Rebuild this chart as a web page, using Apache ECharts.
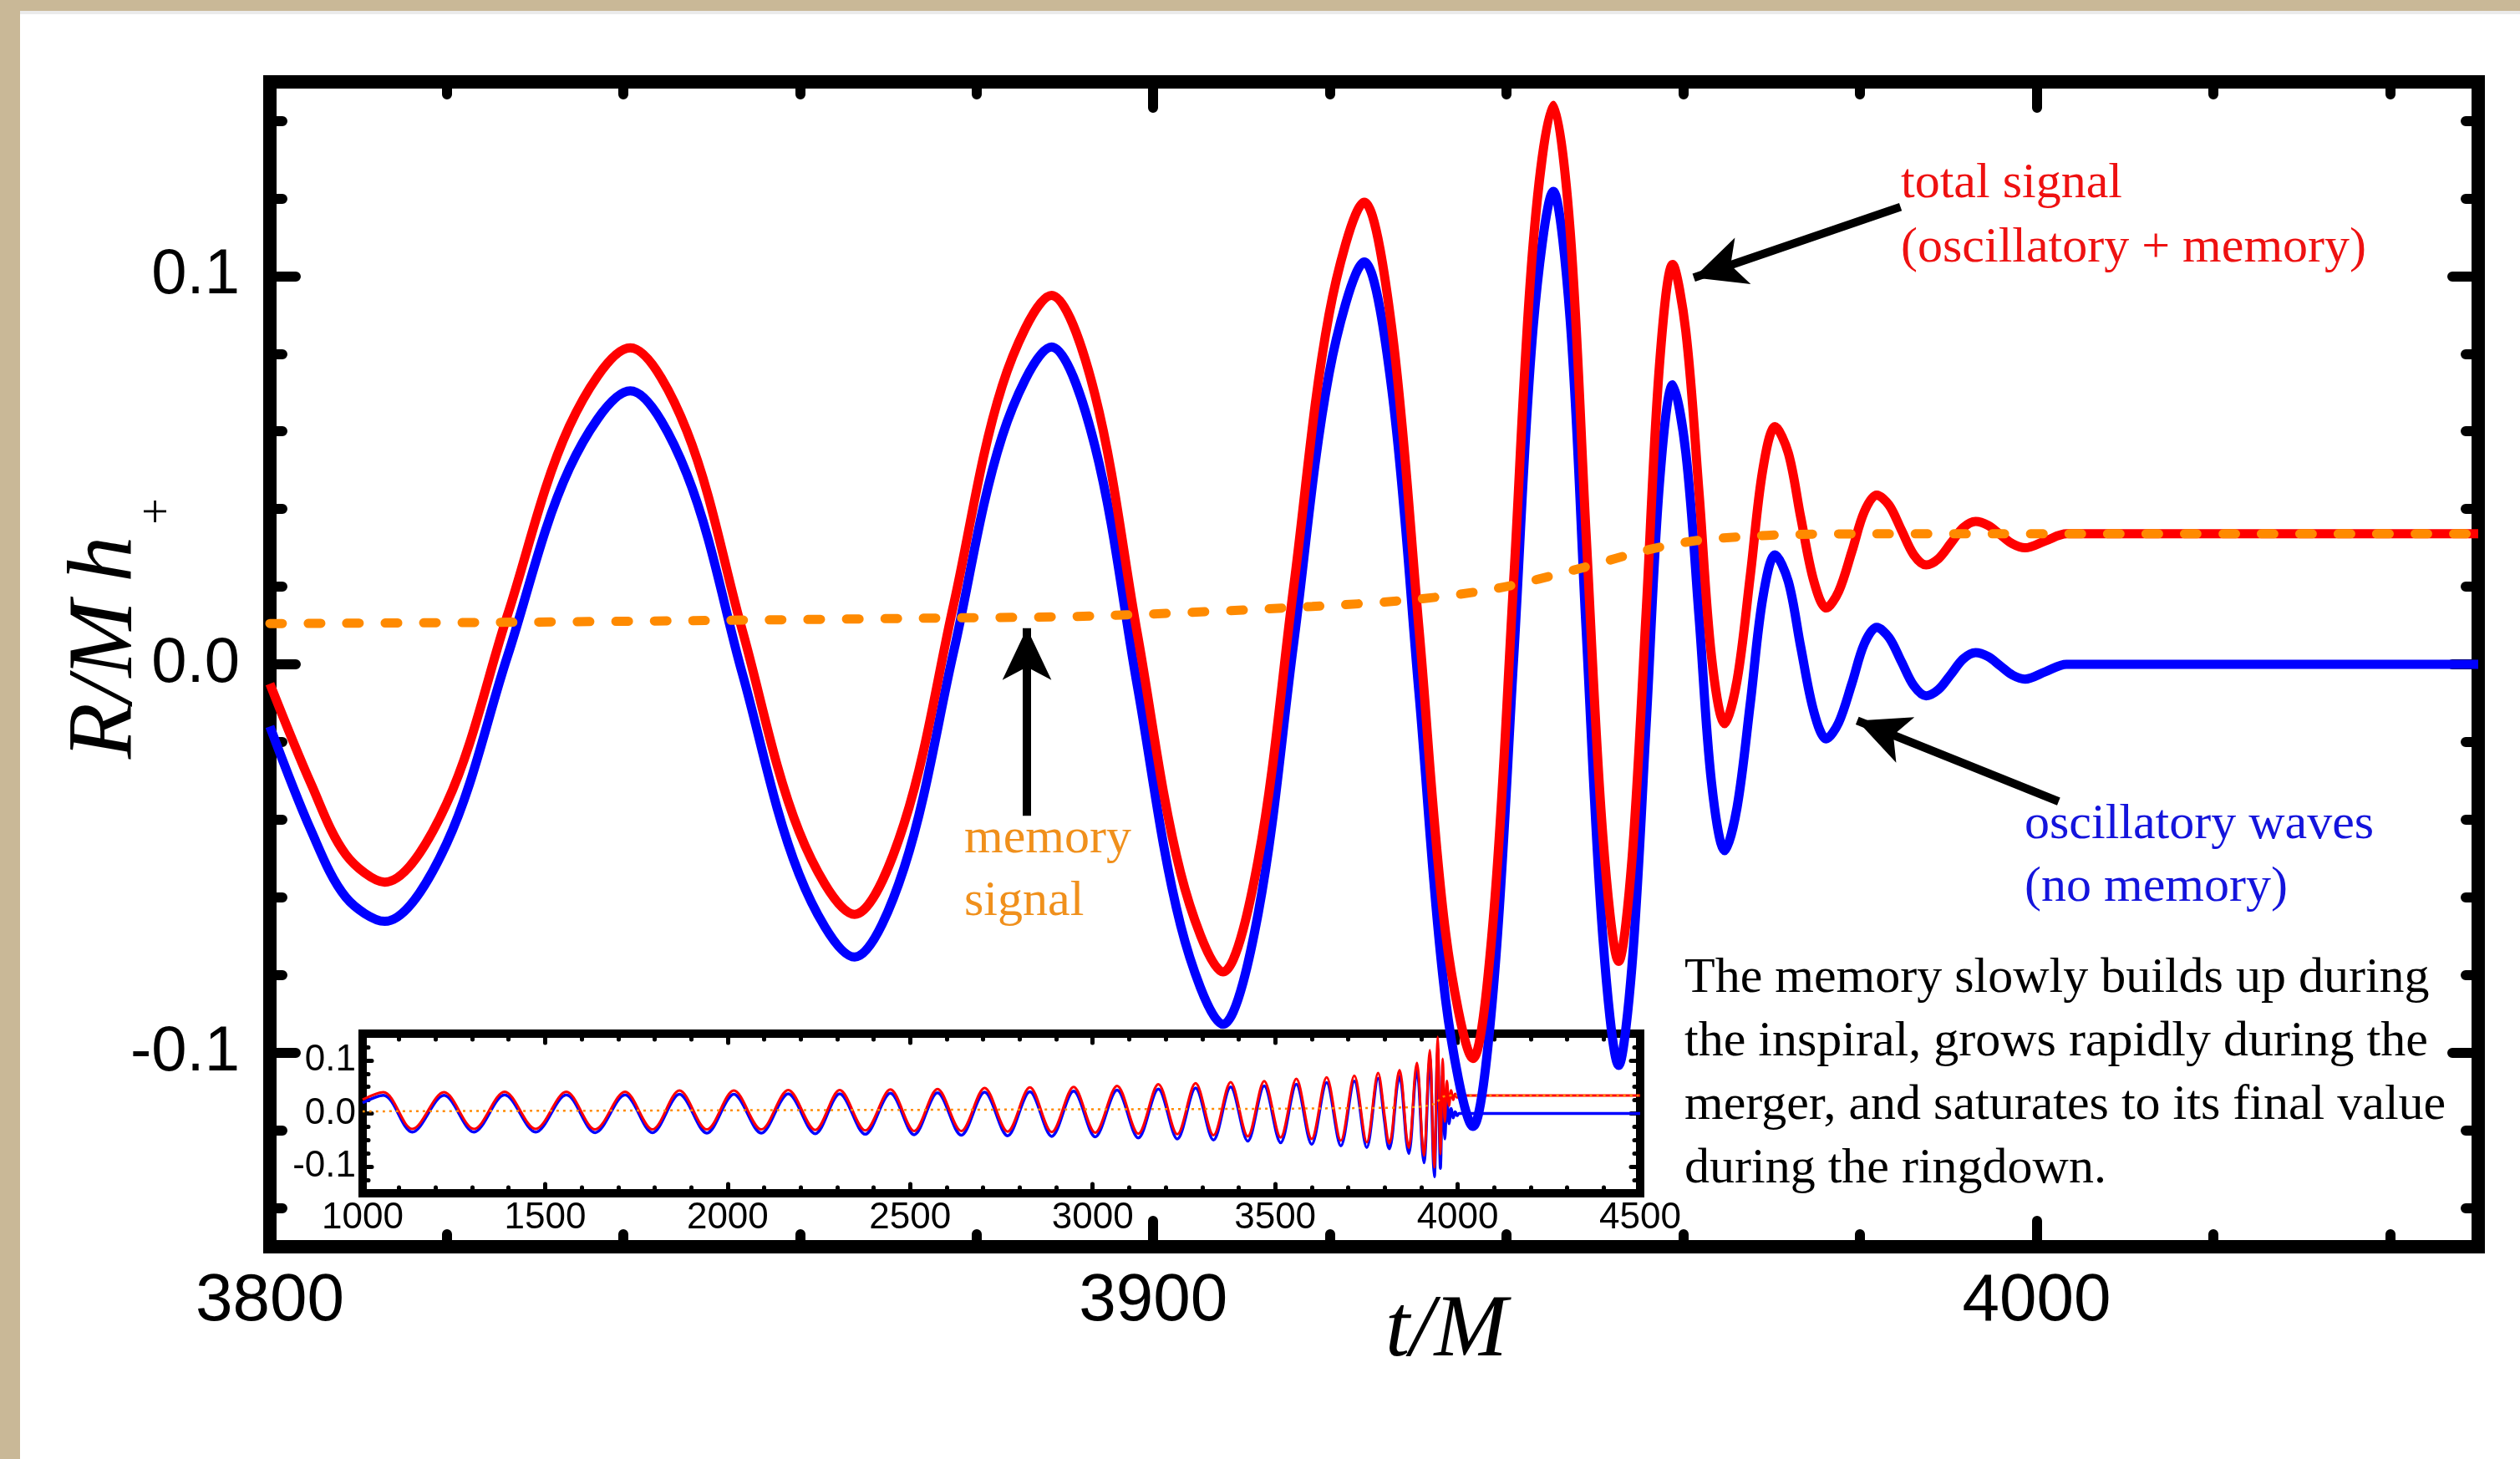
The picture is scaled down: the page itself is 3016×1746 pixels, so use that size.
<!DOCTYPE html>
<html lang="en">
<head>
<meta charset="UTF-8">
<title>memory signal</title>
<script src="https://cdn.jsdelivr.net/npm/echarts@6/dist/echarts.min.js"></script>
<style>
  html, body { margin: 0; padding: 0; background: #fff; }
  #chart { width: 3016px; height: 1746px; }
</style>
</head>
<body>
<div id="chart"></div>
<script>
  // ---- main plot: 3800 < t/M < 4050 (peaks, troughs and points in between) ----
  const tWave = [3800, 3804.7, 3808.6, 3813.0,
    3820.0, 3826.9, 3833.9, 3840.8, 3847.2, 3853.5, 3859.9, 3866.2,
    3871.8, 3877.4, 3882.9, 3888.5, 3893.4, 3898.2, 3903.1, 3907.9,
    3911.9, 3915.9, 3919.9, 3923.9, 3927.0, 3930.1, 3933.1, 3936.2,
    3938.5, 3940.8, 3943.0, 3945.3, 3947.2, 3949.0, 3950.9, 3952.7,
    3954.2, 3955.8, 3957.3, 3958.8, 3960.3, 3961.8, 3963.2, 3964.7,
    3966.1, 3967.6, 3969.0, 3970.4, 3971.9, 3973.3, 3974.8, 3976.2,
    3977.6, 3979.1, 3980.5, 3981.9, 3983.3, 3984.7, 3986.1, 3987.5,
    3988.9, 3990.3, 3991.7, 3993.1, 3994.5, 3995.9, 3997.3, 3998.7,
    4001.0, 4003.4, 4050];
  // oscillatory waves (no memory), blue
  const hOsc = [-0.016, -0.043, -0.0600, -0.0662,
    -0.0462, 0.0021, 0.0504, 0.0704, 0.0490, -0.0025, -0.0540, -0.0754,
    -0.0524, 0.0032, 0.0587, 0.0817, 0.0562, -0.0055, -0.0672, -0.0927,
    -0.0639, 0.0055, 0.0748, 0.1036, 0.0710, -0.0077, -0.0864, -0.1190,
    -0.0837, 0.0014, 0.0865, 0.1218, 0.0888, 0.0093, -0.0703, -0.1033,
    -0.0776, -0.0157, 0.0463, 0.0720, 0.0544, 0.0120, -0.0304, -0.0480,
    -0.0368, -0.0099, 0.0170, 0.0282, 0.0213, 0.0045, -0.0123, -0.0192,
    -0.0150, -0.0049, 0.0053, 0.0095, 0.0069, 0.0007, -0.0055, -0.0081,
    -0.0065, -0.0026, 0.0014, 0.0030, 0.0020, -0.0004, -0.0028, -0.0038,
    -0.0019, 0.0, 0.0];
  // total signal (oscillatory + memory), red
  const hTotal = [-0.005, -0.031, -0.0490, -0.0561,
    -0.0359, 0.0127, 0.0613, 0.0815, 0.0601, 0.0086, -0.0430, -0.0644,
    -0.0410, 0.0153, 0.0717, 0.0950, 0.0695, 0.0079, -0.0537, -0.0792,
    -0.0502, 0.0199, 0.0900, 0.1190, 0.0867, 0.0088, -0.0692, -0.1015,
    -0.0655, 0.0213, 0.1080, 0.1440, 0.1117, 0.0338, -0.0442, -0.0765,
    -0.0502, 0.0133, 0.0767, 0.1030, 0.0857, 0.0439, 0.0020, -0.0153,
    -0.0041, 0.0230, 0.0500, 0.0612, 0.0544, 0.0379, 0.0213, 0.0145,
    0.0188, 0.0291, 0.0393, 0.0436, 0.0410, 0.0346, 0.0282, 0.0256,
    0.0272, 0.0312, 0.0352, 0.0368, 0.0358, 0.0334, 0.0310, 0.0300,
    0.0318, 0.0336, 0.0336];
  // memory signal, orange dashed
  const tMemory = [3800, 3825, 3850, 3875, 3894, 3918, 3930, 3939, 3948, 3954, 3958, 3962, 3967, 3972, 3980, 4050];
  const hMemory = [0.0105, 0.0108, 0.0113, 0.0119, 0.0125, 0.0149, 0.0168, 0.0196, 0.0245, 0.0283, 0.0305, 0.0320, 0.0329, 0.0334, 0.0336, 0.0336];

  // ---- inset: 1000 < t/M < 4500, early inspiral peaks and troughs ----
  const tEarly = [1000, 1057, 1136, 1223, 1305, 1389, 1474, 1558, 1637, 1719, 1794,
    1868, 1943, 2017, 2092, 2166, 2240, 2307, 2377, 2446, 2511, 2575, 2640, 2704,
    2767, 2828, 2888, 2948, 3007, 3067, 3125, 3180, 3232, 3282, 3331, 3378, 3425,
    3470, 3515, 3558, 3600, 3641, 3680, 3717, 3751, 3782];
  const hOscEarly = [0.020, 0.034, -0.035, 0.034, -0.035, 0.035, -0.035, 0.035, -0.036, 0.035, -0.036,
    0.036, -0.037, 0.036, -0.037, 0.037, -0.038, 0.037, -0.039, 0.038, -0.040, 0.039, -0.041, 0.040,
    -0.042, 0.041, -0.043, 0.042, -0.044, 0.044, -0.046, 0.046, -0.048, 0.048, -0.050, 0.050, -0.052,
    0.052, -0.055, 0.055, -0.058, 0.058, -0.061, 0.061, -0.064, 0.066];
  const hTotalEarly = [0.026, 0.040, -0.029, 0.040, -0.029, 0.041, -0.029, 0.041, -0.030, 0.041, -0.030,
    0.043, -0.030, 0.043, -0.030, 0.044, -0.031, 0.044, -0.032, 0.045, -0.033, 0.046, -0.033, 0.048,
    -0.034, 0.049, -0.035, 0.050, -0.036, 0.052, -0.038, 0.055, -0.039, 0.057, -0.041, 0.059, -0.043,
    0.061, -0.045, 0.065, -0.048, 0.068, -0.051, 0.071, -0.054, 0.076];
  const tMemoryEarly = [1000, 1500, 2000, 2500, 3000, 3500];
  const hMemoryEarly = [0.004, 0.005, 0.006, 0.0068, 0.0078, 0.009];
  const tTail = [4500];
  const hOscTail = [0.0];
  const hTotalTail = [0.0336];
  const hMemoryTail = [0.0336];

  // ---- ticks and labels ----
  const mainXLabels = [3800, 3900, 4000];
  const mainXMajor = [3900, 4000];
  const mainXMinor = [3820, 3840, 3860, 3880, 3920, 3940, 3960, 3980, 4020, 4040];
  const mainYLabels = [-0.1, 0, 0.1];
  const mainYMinor = [-0.14, -0.12, -0.08, -0.06, -0.04, -0.02, 0.02, 0.04, 0.06, 0.08, 0.12, 0.14];
  const insetXLabels = [1000, 1500, 2000, 2500, 3000, 3500, 4000, 4500];
  const insetXMajor = [1500, 2000, 2500, 3000, 3500, 4000];
  const insetXMinor = [1100, 1200, 1300, 1400, 1600, 1700, 1800, 1900, 2100, 2200, 2300, 2400,
    2600, 2700, 2800, 2900, 3100, 3200, 3300, 3400, 3600, 3700, 3800, 3900, 4100, 4200, 4300, 4400];
  const insetYLabels = [-0.1, 0, 0.1];
  const insetYMinor = [-0.125, -0.075, -0.05, -0.025, 0.025, 0.05, 0.075, 0.125];

  // arrows: [fromT, fromH, toT, toH], the arrow tip sits at the second point
  const arrowMemory = [3885.7, -0.039, 3885.7, 0.0093];
  const arrowTotal = [3984.6, 0.1178, 3961.2, 0.0996];
  const arrowOsc = [4002.5, -0.0353, 3979.7, -0.0145];

  const pairs = (t, h) => t.map((v, i) => [v, h[i]]);
  const fmt1 = v => v.toFixed(1);
  const fmtInt = v => String(Math.round(v));

  function axis(o) {
    const a = {
      type: 'value', gridIndex: o.grid, position: o.pos, min: o.min, max: o.max,
      axisLine: { show: !!o.line, onZero: false, lineStyle: { color: '#000', width: o.line || 1, cap: 'square' } },
      axisTick: { show: true, inside: true, length: o.len, customValues: o.ticks,
        lineStyle: { color: '#000', width: o.tickW, cap: 'round' } },
      axisLabel: { show: false },
      splitLine: { show: false },
      minorTick: { show: false },
      minorSplitLine: { show: false }
    };
    if (o.labels) {
      a.axisLabel = { show: true, customValues: o.labels, color: '#000', fontFamily: 'Liberation Sans',
        fontSize: o.fontSize, margin: o.margin, formatter: o.fmt };
    }
    return a;
  }

  const MX = { min: 3800, max: 4050 }, MY = { min: -0.15, max: 0.15 };
  const IX = { min: 1000, max: 4500 }, IY = { min: -0.15, max: 0.15 };

  const xAxes = [
    axis({ grid: 0, pos: 'bottom', ...MX, line: 16, len: 31, tickW: 12, ticks: mainXMajor, labels: mainXLabels, fontSize: 80, margin: 26, fmt: fmtInt }),
    axis({ grid: 0, pos: 'bottom', ...MX, len: 15, tickW: 12, ticks: mainXMinor }),
    axis({ grid: 0, pos: 'top', ...MX, line: 16, len: 31, tickW: 12, ticks: mainXMajor }),
    axis({ grid: 0, pos: 'top', ...MX, len: 15, tickW: 12, ticks: mainXMinor }),
    axis({ grid: 1, pos: 'bottom', ...IX, line: 10, len: 11, tickW: 5, ticks: insetXMajor, labels: insetXLabels, fontSize: 44, margin: 8, fmt: fmtInt }),
    axis({ grid: 1, pos: 'bottom', ...IX, len: 7, tickW: 5, ticks: insetXMinor }),
    axis({ grid: 1, pos: 'top', ...IX, line: 10, len: 11, tickW: 5, ticks: insetXMajor }),
    axis({ grid: 1, pos: 'top', ...IX, len: 7, tickW: 5, ticks: insetXMinor })
  ];
  const yAxes = [
    axis({ grid: 0, pos: 'left', ...MY, line: 16, len: 31, tickW: 12, ticks: mainYLabels, labels: mainYLabels, fontSize: 76, margin: 36, fmt: fmt1 }),
    axis({ grid: 0, pos: 'left', ...MY, len: 15, tickW: 12, ticks: mainYMinor }),
    axis({ grid: 0, pos: 'right', ...MY, line: 16, len: 31, tickW: 12, ticks: mainYLabels }),
    axis({ grid: 0, pos: 'right', ...MY, len: 15, tickW: 12, ticks: mainYMinor }),
    axis({ grid: 1, pos: 'left', ...IY, line: 10, len: 11, tickW: 5, ticks: insetYLabels, labels: insetYLabels, fontSize: 44, margin: 8, fmt: fmt1 }),
    axis({ grid: 1, pos: 'left', ...IY, len: 7, tickW: 5, ticks: insetYMinor }),
    axis({ grid: 1, pos: 'right', ...IY, line: 10, len: 11, tickW: 5, ticks: insetYLabels }),
    axis({ grid: 1, pos: 'right', ...IY, len: 7, tickW: 5, ticks: insetYMinor })
  ];

  const arrowItem = a => [{ coord: [a[0], a[1]] }, { coord: [a[2], a[3]] }];
  const serif = '"Liberation Serif"';
  const SMOOTH = 0.33;

  const option = {
    animation: false,
    backgroundColor: '#fff',
    grid: [
      { left: 323, top: 98, right: 50, bottom: 254, outerBoundsMode: 'none' },
      { left: 434, top: 1237, width: 1529, height: 191, outerBoundsMode: 'none' }
    ],
    xAxis: xAxes,
    yAxis: yAxes,
    series: [
      {
        name: 'oscillatory', type: 'line', xAxisIndex: 0, yAxisIndex: 0, z: 3,
        data: pairs(tWave, hOsc), smooth: SMOOTH, showSymbol: false,
        lineStyle: { color: '#0000ff', width: 11 }
      },
      {
        name: 'total', type: 'line', xAxisIndex: 0, yAxisIndex: 0, z: 4,
        data: pairs(tWave, hTotal), smooth: SMOOTH, showSymbol: false,
        lineStyle: { color: '#ff0000', width: 11 }
      },
      {
        name: 'memory', type: 'line', xAxisIndex: 0, yAxisIndex: 0, z: 5,
        data: pairs(tMemory, hMemory), smooth: SMOOTH, showSymbol: false,
        lineStyle: { color: '#ff8a00', width: 11, type: [15, 31], cap: 'round' },
        markLine: {
          silent: true, animation: false,
          symbol: ['none', 'arrow'], symbolSize: [44, 62],
          label: { show: false },
          lineStyle: { color: '#000', width: 10, type: 'solid' },
          data: [arrowItem(arrowMemory), arrowItem(arrowTotal), arrowItem(arrowOsc)]
        }
      },
      {
        name: 'inset oscillatory', type: 'line', xAxisIndex: 4, yAxisIndex: 4, z: 2,
        data: pairs(tEarly, hOscEarly).concat(pairs(tWave, hOsc), pairs(tTail, hOscTail)),
        smooth: SMOOTH, showSymbol: false,
        lineStyle: { color: '#0000ff', width: 3.5 }
      },
      {
        name: 'inset total', type: 'line', xAxisIndex: 4, yAxisIndex: 4, z: 2,
        data: pairs(tEarly, hTotalEarly).concat(pairs(tWave, hTotal), pairs(tTail, hTotalTail)),
        smooth: SMOOTH, showSymbol: false,
        lineStyle: { color: '#ff0000', width: 3 }
      },
      {
        name: 'inset memory', type: 'line', xAxisIndex: 4, yAxisIndex: 4, z: 2,
        data: pairs(tMemoryEarly, hMemoryEarly).concat(pairs(tMemory, hMemory), pairs(tTail, hMemoryTail)),
        smooth: SMOOTH, showSymbol: false,
        lineStyle: { color: '#ff8a00', width: 2.5, type: [3, 5] }
      }
    ],
    graphic: [
      // paper edge
      { type: 'rect', shape: { x: 0, y: 0, width: 3016, height: 13 }, style: { fill: '#c9b897' } },
      { type: 'rect', shape: { x: 0, y: 0, width: 24, height: 1746 }, style: { fill: '#c9b897' } },
      { type: 'rect', shape: { x: 24, y: 13, width: 2992, height: 4 }, style: { fill: '#ebebeb' } },
      // axis titles
      { type: 'text', x: 128, y: 775, rotation: Math.PI / 2,
        style: { text: 'R/M\u2009h', font: 'italic 110px ' + serif, fill: '#000',
          align: 'center', verticalAlign: 'middle', textAlign: 'center', textVerticalAlign: 'middle' } },
      { type: 'text', x: 190, y: 612, rotation: Math.PI / 2,
        style: { text: '+', font: '56px ' + serif, fill: '#000',
          align: 'center', verticalAlign: 'middle', textAlign: 'center', textVerticalAlign: 'middle' } },
      { type: 'text', x: 1731, y: 1594,
        style: { text: 't/M', font: 'italic 105px ' + serif, fill: '#000',
          align: 'center', verticalAlign: 'middle', textAlign: 'center', textVerticalAlign: 'middle' } },
      // annotations
      { type: 'text', x: 2275, y: 182,
        style: { text: 'total signal\n(oscillatory + memory)', font: '60px ' + serif, lineHeight: 77,
          fill: '#ee1111', align: 'left', verticalAlign: 'top', textAlign: 'left', textVerticalAlign: 'top' } },
      { type: 'text', x: 1154, y: 967,
        style: { text: 'memory\nsignal', font: '60px ' + serif, lineHeight: 75,
          fill: '#f0901c', align: 'left', verticalAlign: 'top', textAlign: 'left', textVerticalAlign: 'top' } },
      { type: 'text', x: 2423, y: 950,
        style: { text: 'oscillatory waves\n(no memory)', font: '60px ' + serif, lineHeight: 75,
          fill: '#1414dc', align: 'left', verticalAlign: 'top', textAlign: 'left', textVerticalAlign: 'top' } },
      { type: 'text', x: 2016, y: 1133,
        style: { text: 'The memory slowly builds up during\nthe inspiral, grows rapidly during the\nmerger, and saturates to its final value\nduring the ringdown.',
          font: '60px ' + serif, lineHeight: 76,
          fill: '#000', align: 'left', verticalAlign: 'top', textAlign: 'left', textVerticalAlign: 'top' } }
    ]
  };

  const chart = echarts.init(document.getElementById('chart'));
  chart.setOption(option);
</script>
</body>
</html>
